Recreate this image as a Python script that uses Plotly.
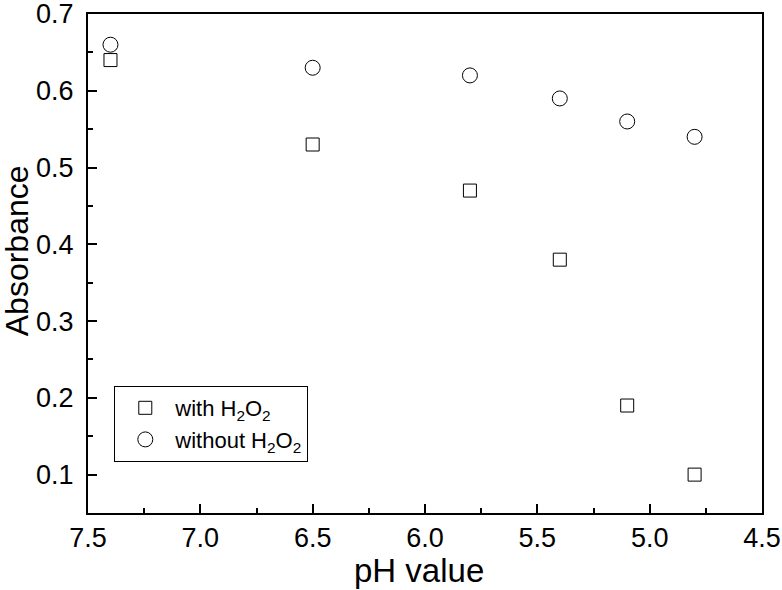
import plotly.graph_objects as go

ph = [7.4, 6.5, 5.8, 5.4, 5.1, 4.8]
with_h2o2 = [0.64, 0.53, 0.47, 0.38, 0.19, 0.10]
without_h2o2 = [0.66, 0.63, 0.62, 0.59, 0.56, 0.54]
x_ticks = [7.5, 7.0, 6.5, 6.0, 5.5, 5.0, 4.5]
y_ticks = [0.1, 0.2, 0.3, 0.4, 0.5, 0.6, 0.7]
x_title = "pH value"
y_title = "Absorbance"

FONT = "Liberation Sans, Arial, sans-serif"

fig = go.Figure()
fig.add_trace(go.Scatter(
    x=ph, y=with_h2o2, mode="markers", name="with H<sub>2</sub>O<sub>2</sub>",
    marker=dict(symbol="square-open", size=13, color="black", line=dict(width=1, color="black")),
))
fig.add_trace(go.Scatter(
    x=ph, y=without_h2o2, mode="markers", name="without H<sub>2</sub>O<sub>2</sub>",
    marker=dict(symbol="circle-open", size=15, color="black", line=dict(width=1, color="black")),
))

axis_common = dict(
    showgrid=False, zeroline=False, showline=True, linecolor="black", linewidth=2,
    mirror=True, ticks="inside", ticklen=9, tickwidth=2, tickcolor="black",
    tickfont=dict(size=27, color="black", family=FONT),
    ticklabeloverflow="allow", automargin=False,
)

fig.update_xaxes(
    range=[7.5, 4.5], tickvals=x_ticks, ticktext=[f"{v:.1f}" for v in x_ticks],
    minor=dict(ticks="inside", ticklen=5, tickwidth=2, tickcolor="black", dtick=0.25, tick0=4.5),
    **axis_common,
)
fig.update_yaxes(
    range=[0.05, 0.70001], tickvals=y_ticks, ticktext=[f"{v:.1f}" for v in y_ticks],
    minor=dict(ticks="inside", ticklen=5, tickwidth=2, tickcolor="black", dtick=0.05, tick0=0.05),
    ticklabelstandoff=7,
    **axis_common,
)

fig.add_annotation(
    text=x_title, xref="paper", yref="paper", x=0.491, y=-0.116,
    xanchor="center", yanchor="middle", showarrow=False,
    font=dict(size=33, color="black", family=FONT),
)
fig.add_annotation(
    text=y_title, xref="paper", yref="paper", x=-0.105, y=0.525,
    xanchor="center", yanchor="middle", showarrow=False, textangle=-90,
    font=dict(size=32, color="black", family=FONT),
)

fig.update_layout(
    width=782, height=590,
    margin=dict(l=88, r=20, t=14, b=77),
    paper_bgcolor="white", plot_bgcolor="white",
    font=dict(family=FONT, color="black"),
    showlegend=True,
    legend=dict(
        x=0.039, y=0.2545, xanchor="left", yanchor="top",
        bordercolor="black", borderwidth=1, bgcolor="white",
        font=dict(size=22, color="black", family=FONT),
        itemwidth=50,
    ),
)

fig.write_html("out.html", config={"displayModeBar": False},
               post_script="document.body.style.margin='0';")
